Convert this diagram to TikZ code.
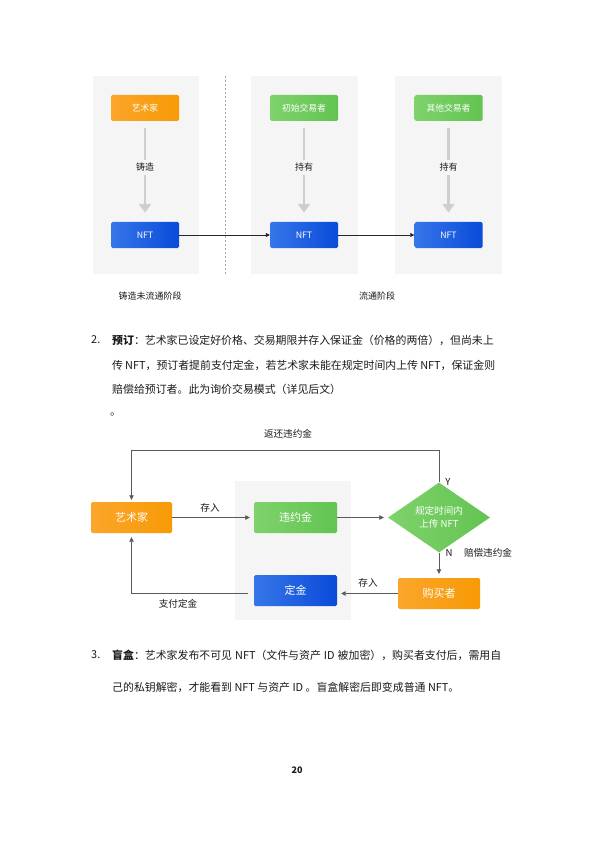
\documentclass[tikz,border=0pt]{standalone}
\usepackage{fontspec}
\setmainfont{Noto Sans CJK SC}
\usetikzlibrary{arrows.meta,shapes.geometric}
\XeTeXinterchartokenstate=1
\XeTeXinterchartoks 1 1 = {\hskip 0pt plus 1pt\relax}
\XeTeXinterchartoks 1 2 = {\hskip 0pt plus 1pt\relax}
\XeTeXinterchartoks 1 3 = {\hskip 0pt plus 1pt\relax}
\XeTeXinterchartoks 3 1 = {\hskip 0pt plus 1pt\relax}
\XeTeXinterchartoks 2 1 = {\hskip 0pt plus 1pt\relax}
\XeTeXinterchartoks 3 3 = {\hskip 0pt plus 1pt\relax}
\XeTeXinterchartoks 3 2 = {\hskip 0pt plus 1pt\relax}
\definecolor{orgA}{HTML}{FBA62B}
\definecolor{orgB}{HTML}{F79A06}
\definecolor{grnA}{HTML}{7FD26C}
\definecolor{grnB}{HTML}{62C451}
\definecolor{bluA}{HTML}{3676E9}
\definecolor{bluB}{HTML}{0A4BD9}
\definecolor{panelc}{HTML}{F5F5F5}
\definecolor{garrowc}{HTML}{CFCFCF}
\definecolor{linec}{HTML}{5A5A5A}
\definecolor{txtc}{HTML}{1A1A1A}
\tikzset{
  panel/.style={fill=panelc, draw=none, inner sep=0pt},
  box/.style={rounded corners=1.5pt, inner sep=0pt, text=white, draw=none},
  orangebox/.style={box, left color=orgA, right color=orgB},
  greenbox/.style={box, left color=grnA, right color=grnB},
  bluebox/.style={box, left color=bluA, right color=bluB},
  smallbox/.style={minimum width=68pt, minimum height=26pt, font=\fontsize{8.8}{10}\selectfont},
  bigbox/.style={minimum height=31pt, font=\fontsize{11}{13}\selectfont},
  garrow/.style={draw=garrowc, line width=2.8pt, -{Triangle[width=12pt,length=9pt]}},
  thinarrow/.style={draw=black!85, line width=0.5pt, -{Triangle[width=4pt,length=4pt]}},
  flow/.style={draw=linec, line width=0.8pt, -{Triangle[width=4.5pt,length=4.5pt]}},
  midlbl/.style={fill=panelc, inner sep=3pt, text=txtc, font=\fontsize{9}{10}\selectfont},
  lbla/.style={inner sep=0pt, text=txtc, font=\fontsize{9}{10}\selectfont},
  lblb/.style={inner sep=0pt, text=txtc, font=\fontsize{9.6}{11}\selectfont},
  para/.style={inner sep=0pt, anchor=west, text=txtc, font=\fontsize{10.9}{13}\selectfont},
}
\begin{document}
\begin{tikzpicture}[x=1pt,y=-1pt]
\useasboundingbox (0,0) rectangle (595,842);
\fill[white] (0,0) rectangle (595,842);

% ---------- top diagram ----------
\node[panel, minimum width=106pt, minimum height=198pt] (p1) at (146,175) {};
\node[panel, minimum width=107pt, minimum height=198pt] (p2) at (304.5,175) {};
\node[panel, minimum width=107pt, minimum height=198pt] (p3) at (448.5,175) {};
\coordinate (dl1) at (225,76);
\coordinate (dl2) at (225,274);
\draw[gray!70, line width=0.5pt, dash pattern=on 2pt off 2pt] (dl1) -- (dl2);

\node[orangebox, smallbox] (art1) at (145,108) {艺术家};
\node[greenbox, smallbox] (ini) at (304,108) {初始交易者};
\node[greenbox, smallbox] (oth) at (448.5,108) {其他交易者};
\node[bluebox, smallbox] (nft1) at (145,235) {NFT};
\node[bluebox, smallbox] (nft2) at (304,235) {NFT};
\node[bluebox, smallbox] (nft3) at (448.5,235) {NFT};

\draw[garrow, shorten <=7pt, shorten >=9pt] (art1.south) -- (nft1.north)
  node[pos=0.46, midlbl] (l1) {铸造};
\draw[garrow, shorten <=7pt, shorten >=9pt] (ini.south) -- (nft2.north)
  node[pos=0.46, midlbl] (l2) {持有};
\draw[garrow, shorten <=7pt, shorten >=9pt] (oth.south) -- (nft3.north)
  node[pos=0.46, midlbl] (l3) {持有};

\draw[thinarrow] (nft1.east) -- (nft2.west);
\draw[thinarrow] (nft2.east) -- (nft3.west);

\node[lbla] (ph1) at (150,296) {铸造未流通阶段};
\node[lbla] (ph2) at (377,296) {流通阶段};

% ---------- paragraph 2 ----------
\node[para] (n2) at (91,340) {2.};
\node[para] (t21) at (112,340) {\makebox[383pt][s]{\textbf{预订}：艺术家已设定好价格、交易期限并存入保证金（价格的两倍），但尚未上}};
\node[para] (t22) at (112,365) {\makebox[383pt][s]{传 NFT，预订者提前支付定金，若艺术家未能在规定时间内上传 NFT，保证金则}};
\node[para] (t23) at (112,389) {赔偿给预订者。此为询价交易模式（详见后文）};
\node[para] (t24) at (110,414) {。};

% ---------- second diagram ----------
\node[panel, minimum width=116pt, minimum height=139pt] (bg) at (293,550.5) {};
\node[orangebox, bigbox, minimum width=81pt] (art2) at (131.5,517.5) {艺术家};
\node[greenbox, bigbox, minimum width=83pt] (wyj) at (295.5,517.5) {违约金};
\node[diamond, inner sep=0pt, minimum width=102pt, minimum height=53pt, left color=grnA, right color=grnB, text=white, align=center, font=\fontsize{9.6}{13}\selectfont] (dia) at (439,517.5) {规定时间内\\上传 NFT};
\node[orangebox, bigbox, minimum width=82pt] (buy) at (439,593.5) {购买者};
\node[bluebox, bigbox, minimum width=83pt] (dep) at (295.5,590.5) {定金};

\coordinate (topy) at (0,450);
\draw[flow, shorten >=2pt] (dia.north) |- (art2.north |- topy) -- (art2.north);
\draw[flow, shorten >=4pt] (art2.east) -- (wyj.west);
\draw[flow, shorten >=4pt] (wyj.east) -- (dia.west);
\draw[flow, shorten >=4pt] (dia.south) -- (buy.north);
\draw[flow, shorten >=4pt] (buy.west) -- (dep.east |- buy.west);
\draw[flow, shorten <=6pt, shorten >=4pt] (dep.west |- buy.west) -| (art2.south);

\node[lblb] (lb1) at (288,434) {返还违约金};
\node[lblb] (lb2) at (448,482) {Y};
\node[lblb] (lb3) at (210,508) {存入};
\node[lblb] (lb4) at (449,553) {N};
\node[lblb] (lb5) at (488,553) {赔偿违约金};
\node[lblb] (lb6) at (368,583) {存入};
\node[lblb] (lb7) at (178,604) {支付定金};

% ---------- paragraph 3 ----------
\node[para] (n3) at (91,655) {3.};
\node[para] (t31) at (112,655) {\makebox[389pt][s]{\textbf{盲盒}：艺术家发布不可见 NFT（文件与资产 ID 被加密），购买者支付后，需用自}};
\node[para] (t32) at (112,687) {己的私钥解密，才能看到 NFT 与资产 ID 。盲盒解密后即变成普通 NFT。};

\node[inner sep=0pt, text=txtc, font=\fontsize{9}{11}\selectfont\bfseries] (pg) at (297,770) {20};
\end{tikzpicture}
\end{document}
